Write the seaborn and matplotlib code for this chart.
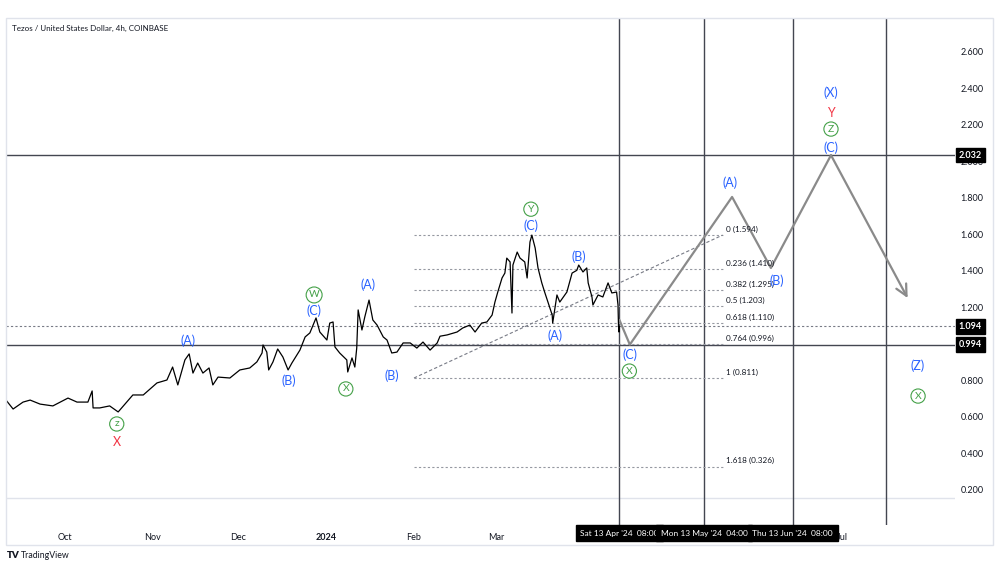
import pandas as pd
import matplotlib
matplotlib.use('Agg')
import matplotlib.pyplot as plt
import matplotlib.transforms as mtransforms
from matplotlib.patches import Rectangle
import seaborn as sns

# preço XTZ/USD 4h
price_dates = [
    "2023-09-10 08:00", "2023-09-12 20:00", "2023-09-16 08:00", "2023-09-18 20:00", "2023-09-22 08:00",
    "2023-09-26 20:00", "2023-10-02 04:00", "2023-10-05 08:00", "2023-10-09 04:00", "2023-10-10 16:00",
    "2023-10-11 00:00", "2023-10-13 08:00", "2023-10-16 20:00", "2023-10-19 20:00", "2023-10-22 20:00",
    "2023-10-25 00:00", "2023-10-28 16:00", "2023-11-02 12:00", "2023-11-06 00:00", "2023-11-08 00:00",
    "2023-11-09 20:00", "2023-11-12 08:00", "2023-11-13 20:00", "2023-11-15 04:00", "2023-11-16 20:00",
    "2023-11-18 16:00", "2023-11-20 20:00", "2023-11-22 04:00", "2023-11-24 00:00", "2023-11-28 04:00",
    "2023-12-01 16:00", "2023-12-05 04:00", "2023-12-07 16:00", "2023-12-09 12:00", "2023-12-09 20:00",
    "2023-12-11 04:00", "2023-12-11 20:00", "2023-12-13 08:00", "2023-12-15 00:00", "2023-12-16 20:00",
    "2023-12-18 16:00", "2023-12-20 00:00", "2023-12-22 20:00", "2023-12-24 16:00", "2023-12-26 08:00",
    "2023-12-28 12:00", "2023-12-29 20:00", "2024-01-01 08:00", "2024-01-02 08:00", "2024-01-03 12:00",
    "2024-01-04 04:00", "2024-01-05 20:00", "2024-01-08 08:00", "2024-01-08 16:00", "2024-01-10 04:00",
    "2024-01-11 04:00", "2024-01-11 20:00", "2024-01-12 08:00", "2024-01-13 16:00", "2024-01-14 16:00",
    "2024-01-16 04:00", "2024-01-17 12:00", "2024-01-19 00:00", "2024-01-21 04:00", "2024-01-22 12:00",
    "2024-01-24 04:00", "2024-01-26 00:00", "2024-01-28 04:00", "2024-01-30 16:00", "2024-02-02 00:00",
    "2024-02-04 04:00", "2024-02-06 16:00", "2024-02-09 04:00", "2024-02-10 04:00", "2024-02-12 16:00",
    "2024-02-16 04:00", "2024-02-18 04:00", "2024-02-20 16:00", "2024-02-22 12:00", "2024-02-24 20:00",
    "2024-02-26 16:00", "2024-02-28 12:00", "2024-02-29 12:00", "2024-03-01 12:00", "2024-03-03 00:00",
    "2024-03-04 00:00", "2024-03-04 16:00", "2024-03-05 20:00", "2024-03-06 12:00", "2024-03-06 20:00",
    "2024-03-08 08:00", "2024-03-09 08:00", "2024-03-11 00:00", "2024-03-11 20:00", "2024-03-12 20:00",
    "2024-03-13 12:00", "2024-03-14 16:00", "2024-03-15 16:00", "2024-03-17 00:00", "2024-03-18 00:00",
    "2024-03-19 04:00", "2024-03-20 16:00", "2024-03-20 20:00", "2024-03-22 08:00", "2024-03-23 08:00",
    "2024-03-25 20:00", "2024-03-27 16:00", "2024-03-29 08:00", "2024-03-30 00:00", "2024-03-31 12:00",
    "2024-04-01 20:00", "2024-04-02 08:00", "2024-04-03 16:00", "2024-04-04 00:00", "2024-04-05 20:00",
    "2024-04-07 12:00", "2024-04-09 08:00", "2024-04-10 16:00", "2024-04-12 08:00", "2024-04-12 20:00",
    "2024-04-13 00:00", "2024-04-13 04:00", "2024-04-13 08:00",
]
price_vals = [
    0.690, 0.641, 0.679, 0.690, 0.668, 0.658, 0.701, 0.679, 0.679, 0.740,
    0.647, 0.647, 0.658, 0.625, 0.679, 0.718, 0.718, 0.784, 0.800, 0.871,
    0.773, 0.910, 0.943, 0.838, 0.893, 0.838, 0.866, 0.773, 0.816, 0.811,
    0.855, 0.866, 0.899, 0.948, 0.992, 0.953, 0.855, 0.899, 0.970, 0.926,
    0.855, 0.893, 0.964, 1.036, 1.058, 1.140, 1.063, 1.019, 1.112, 1.118,
    0.981, 0.948, 0.910, 0.844, 0.921, 0.871, 0.975, 1.184, 1.074, 1.145,
    1.238, 1.129, 1.101, 1.036, 1.019, 0.948, 0.953, 1.003, 1.003, 0.975,
    1.008, 0.964, 1.003, 1.040, 1.047, 1.063, 1.085, 1.101, 1.063, 1.112,
    1.118, 1.156, 1.227, 1.282, 1.359, 1.386, 1.468, 1.447, 1.167, 1.430,
    1.501, 1.468, 1.447, 1.359, 1.556, 1.594, 1.523, 1.414, 1.332, 1.282,
    1.227, 1.156, 1.112, 1.266, 1.227, 1.282, 1.386, 1.401, 1.430, 1.392,
    1.414, 1.332, 1.255, 1.211, 1.266, 1.255, 1.332, 1.277, 1.282, 1.211,
    1.101, 1.063, 1.094,
]

# caminho projetado (linha cinza)
proj_dates = ["2024-04-13 08:00", "2024-04-17 00:00", "2024-05-23 00:00",
              "2024-06-05 16:00", "2024-06-26 20:00", "2024-07-23 20:00"]
proj_vals = [1.129, 0.994, 1.803, 1.414, 2.032, 1.249]

# retração de Fibonacci
fib_ratios = ["0", "0.236", "0.382", "0.5", "0.618", "0.764", "1", "1.618"]
fib_prices = [1.594, 1.410, 1.295, 1.203, 1.110, 0.996, 0.811, 0.326]
fib_start = "2024-02-01 00:00"
fib_end = "2024-05-19 16:00"

# linhas horizontais / verticais
solid_levels = [2.032, 0.994]
last_price = 1.094
vline_dates = ["2024-04-13 08:00", "2024-05-13 04:00", "2024-06-13 08:00", "2024-07-16 04:00"]
vline_labels = ["Sat 13 Apr '24  08:00", "Mon 13 May '24  04:00", "Thu 13 Jun '24  08:00", None]

# rótulos de ondas
blue_text = ["(A)", "(B)", "(C)", "(A)", "(B)", "(C)", "(A)", "(B)", "(C)", "(A)", "(B)", "(C)", "(X)", "(Z)"]
blue_dates = ["2023-11-13 08:00", "2023-12-19 00:00", "2023-12-27 20:00", "2024-01-15 20:00",
              "2024-01-24 04:00", "2024-03-13 04:00", "2024-03-21 16:00", "2024-03-30 00:00",
              "2024-04-17 00:00", "2024-05-22 08:00", "2024-06-07 20:00", "2024-06-26 20:00",
              "2024-06-26 20:00", "2024-07-27 12:00"]
blue_vals = [1.014, 0.795, 1.178, 1.321, 0.822, 1.644, 1.041, 1.474, 0.937, 1.879, 1.342, 2.071, 2.373, 0.877]

green_text = ["W", "X", "z", "Y", "X", "Z", "X"]
green_dates = ["2023-12-27 20:00", "2024-01-08 00:00", "2023-10-19 08:00", "2024-03-13 04:00",
               "2024-04-16 20:00", "2024-06-26 20:00", "2024-07-27 12:00"]
green_vals = [1.266, 0.751, 0.559, 1.736, 0.849, 2.175, 0.712]

red_text = ["X", "Y"]
red_dates = ["2023-10-19 08:00", "2024-06-26 20:00"]
red_vals = [0.460, 2.263]

month_ticks = ["2023-10-01", "2023-11-01", "2023-12-01", "2024-01-01", "2024-02-01", "2024-03-01", "2024-07-01"]
month_labels = ["Oct", "Nov", "Dec", "2024", "Feb", "Mar", "Jul"]
price_ticks = [0.2, 0.4, 0.6, 0.8, 1.0, 1.2, 1.4, 1.6, 1.8, 2.0, 2.2, 2.4, 2.6]

BLUE = '#2962ff'
GREEN = '#43a047'
RED = '#f23645'
TXT = '#131722'

sns.set_style('white')
plt.rcParams['font.family'] = ['Lato', 'DejaVu Sans']

df = pd.DataFrame({'date': pd.to_datetime(price_dates), 'price': price_vals})
proj = pd.DataFrame({'date': pd.to_datetime(proj_dates), 'price': proj_vals})
T = pd.Timestamp

fig = plt.figure(figsize=(10, 5.68), dpi=100)
ax = fig.add_axes([0.006, 43 / 568, 0.949, 507 / 568])

# linhas de fundo
for lv in solid_levels:
    ax.axhline(lv, color='#434651', lw=1, zorder=1)
ax.axhline(last_price, color='#787b86', lw=0.8, ls=(0, (2, 2)), zorder=1)
ax.axhline(0.1534, color='#e0e3eb', lw=1, zorder=1)
for d in vline_dates:
    ax.axvline(T(d), color='#434651', lw=1, zorder=1)

# fibonacci
for r, p in zip(fib_ratios, fib_prices):
    ax.plot([T(fib_start), T(fib_end)], [p, p], color='#9598a1', lw=0.8, ls=(0, (2, 2)), zorder=1)
    ax.annotate(f"{r} ({p:.3f})", (T(fib_end), p), xytext=(2.5, 1.5), textcoords='offset points',
                fontsize=5.9, color=TXT, va='bottom', ha='left')
ax.plot([T(fib_start), T(fib_end)], [fib_prices[-2], fib_prices[0]], color='#787b86', lw=0.8,
        ls=(0, (3, 2)), zorder=1)

# preço
sns.lineplot(data=df, x='date', y='price', color='black', lw=0.9, ax=ax, zorder=3)

# projeção
sns.lineplot(data=proj.iloc[:-1], x='date', y='price', color='#8a8a8a', lw=1.6, ax=ax, zorder=2)
ax.annotate('', xy=(proj['date'].iloc[-1], proj['price'].iloc[-1]),
            xytext=(proj['date'].iloc[-2], proj['price'].iloc[-2]),
            arrowprops=dict(arrowstyle='->,head_length=0.8,head_width=0.4', color='#8a8a8a', lw=1.6,
                            shrinkA=0, shrinkB=0), zorder=2)

# rótulos das ondas
for t, d, v in zip(blue_text, blue_dates, blue_vals):
    ax.text(T(d), v, t, color=BLUE, fontsize=9, ha='center', va='center', zorder=5)
for t, d, v in zip(green_text, green_dates, green_vals):
    ax.text(T(d), v, t, color=GREEN, fontsize=7.5, ha='center', va='center', zorder=5,
            bbox=dict(boxstyle='circle,pad=0.25', fc='white', ec=GREEN, lw=0.8))
for t, d, v in zip(red_text, red_dates, red_vals):
    ax.text(T(d), v, t, color=RED, fontsize=9, ha='center', va='center', zorder=5)

# eixos
ax.set_xlim(T("2023-09-10 08:00"), T("2024-08-09 12:00"))
ax.set_ylim(0.0055, 2.7836)
ax.yaxis.tick_right()
ax.set_yticks(price_ticks)
ax.set_yticklabels([f"{p:.3f}" for p in price_ticks])
ax.set_xticks([T(m) for m in month_ticks])
ax.set_xticklabels(month_labels)
ax.tick_params(axis='both', length=0, labelsize=6.5, colors=TXT)
ax.tick_params(axis='y', pad=4)
ax.tick_params(axis='x', pad=6)
ax.get_xticklabels()[3].set_fontweight('bold')
ax.set_xlabel('')
ax.set_ylabel('')
for s in ax.spines.values():
    s.set_visible(False)

# caixas de preço no eixo
ytrans = mtransforms.blended_transform_factory(ax.transAxes, ax.transData)
for lv in [solid_levels[0], last_price, solid_levels[1]]:
    ax.text(1.004, lv, f"{lv:.3f}", transform=ytrans, color='white', fontsize=6.5, fontweight='bold',
            ha='left', va='center', zorder=10, clip_on=False,
            bbox=dict(boxstyle='square,pad=0.3', fc='black', ec='black'))

# caixas de data no eixo
xtrans = mtransforms.blended_transform_factory(ax.transData, ax.transAxes)
for d, lab in zip(vline_dates, vline_labels):
    if lab is None:
        continue
    ax.text(T(d), -0.009, lab, transform=xtrans, color='white', fontsize=6.0, ha='center', va='top',
            zorder=10, clip_on=False, bbox=dict(boxstyle='square,pad=0.55', fc='black', ec='black'))

# moldura, título e logo
fig.add_artist(Rectangle((6 / 1000, 1 - 545 / 568), 987 / 1000, 527 / 568, transform=fig.transFigure,
                         fill=False, ec='#e0e3eb', lw=1))
fig.text(12 / 1000, 1 - 28 / 568, "Tezos / United States Dollar, 4h, COINBASE", fontsize=5.8,
         color=TXT, va='center')
fig.text(7 / 1000, 1 - 556 / 568, "TV", fontsize=7, fontweight='heavy', color=TXT, va='center')
fig.text(21 / 1000, 1 - 556 / 568, "TradingView", fontsize=6.3, color=TXT, va='center')

fig.savefig('out.png', dpi=100, facecolor='white')
